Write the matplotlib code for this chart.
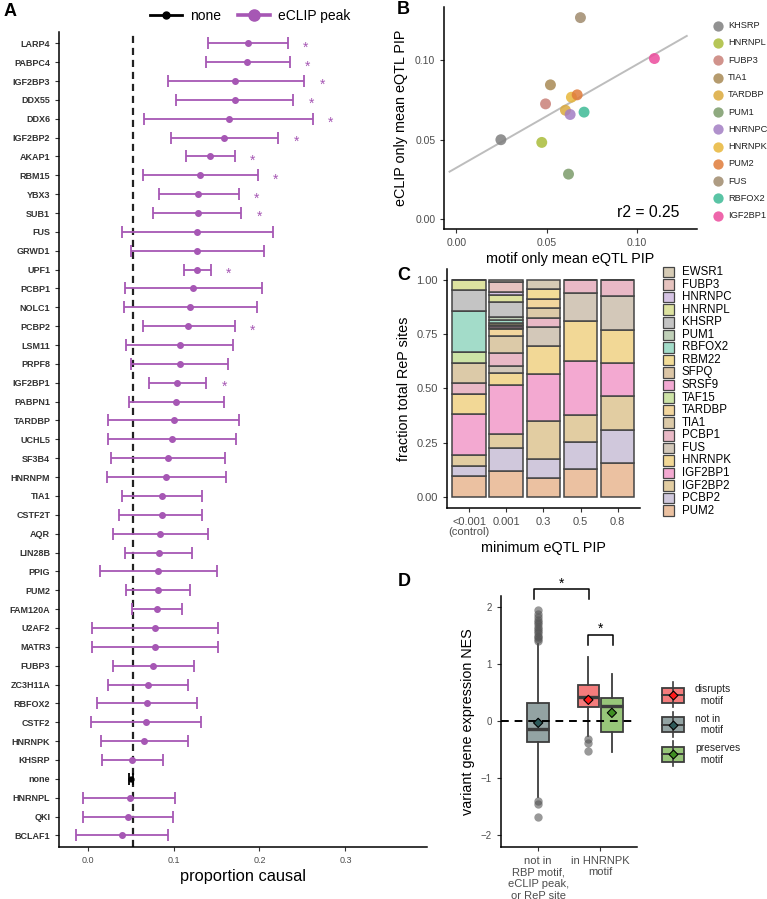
import numpy as np
import matplotlib.pyplot as plt
from matplotlib.lines import Line2D
from matplotlib.patches import Rectangle

plt.rcParams['font.family'] = ['Liberation Sans', 'DejaVu Sans']

W, H = 767, 899
PURPLE = "#a657b4"
TICK_GREY = "#4d4d4d"


def px_rect(l, t, r, b):
    """figure rect from pixel box (left, top, right, bottom)"""
    return [l / W, 1 - b / H, (r - l) / W, (b - t) / H]


# ── Panel A: proportion causal per RBP (eCLIP peak) ───────────────────────────
A_LABELS = ["LARP4", "PABPC4", "IGF2BP3", "DDX55", "DDX6", "IGF2BP2", "AKAP1",
            "RBM15", "YBX3", "SUB1", "FUS", "GRWD1", "UPF1", "PCBP1", "NOLC1",
            "PCBP2", "LSM11", "PRPF8", "IGF2BP1", "PABPN1", "TARDBP", "UCHL5",
            "SF3B4", "HNRNPM", "TIA1", "CSTF2T", "AQR", "LIN28B", "PPIG", "PUM2",
            "FAM120A", "U2AF2", "MATR3", "FUBP3", "ZC3H11A", "RBFOX2", "CSTF2",
            "HNRNPK", "KHSRP", "none", "HNRNPL", "QKI", "BCLAF1"]
A_MID = [0.187, 0.186, 0.172, 0.171, 0.164, 0.159, 0.142, 0.131, 0.129, 0.128,
         0.127, 0.127, 0.127, 0.123, 0.119, 0.117, 0.107, 0.107, 0.104, 0.103,
         0.100, 0.098, 0.094, 0.091, 0.087, 0.086, 0.084, 0.083, 0.082, 0.082,
         0.081, 0.078, 0.078, 0.076, 0.070, 0.069, 0.068, 0.066, 0.052, 0.0505,
         0.049, 0.047, 0.040]
A_LO = [0.140, 0.138, 0.093, 0.103, 0.066, 0.097, 0.114, 0.065, 0.083, 0.076,
        0.040, 0.050, 0.112, 0.043, 0.042, 0.064, 0.045, 0.050, 0.071, 0.048,
        0.024, 0.024, 0.027, 0.022, 0.040, 0.037, 0.029, 0.043, 0.014, 0.045,
        0.052, 0.005, 0.005, 0.029, 0.024, 0.011, 0.004, 0.015, 0.017, 0.0485,
        -0.005, -0.005, -0.014]
A_HI = [0.233, 0.235, 0.252, 0.239, 0.262, 0.222, 0.171, 0.198, 0.176, 0.179,
        0.216, 0.205, 0.143, 0.203, 0.197, 0.171, 0.169, 0.163, 0.138, 0.159,
        0.176, 0.173, 0.160, 0.161, 0.133, 0.133, 0.140, 0.122, 0.151, 0.119,
        0.110, 0.152, 0.152, 0.124, 0.117, 0.127, 0.132, 0.117, 0.088, 0.0525,
        0.102, 0.099, 0.093]
A_SIGNIF = ["LARP4", "PABPC4", "IGF2BP3", "DDX55", "DDX6", "IGF2BP2", "AKAP1",
            "RBM15", "YBX3", "SUB1", "UPF1", "PCBP2", "IGF2BP1"]
A_NONE_LINE = 0.0527

# ── Panel B: motif-only vs eCLIP-only mean eQTL PIP ────────────────────────────
B_RBPS = ["KHSRP", "HNRNPL", "FUBP3", "TIA1", "TARDBP", "PUM1", "HNRNPC",
          "HNRNPK", "PUM2", "FUS", "RBFOX2", "IGF2BP1"]
B_MOTIF = [0.0247, 0.0473, 0.0494, 0.0521, 0.0604, 0.0621, 0.0630, 0.0637,
           0.0669, 0.0687, 0.0707, 0.1096]
B_ECLIP = [0.0500, 0.0483, 0.0726, 0.0846, 0.0686, 0.0283, 0.0659, 0.0768,
           0.0783, 0.1270, 0.0674, 0.1012]
B_COLORS = ["#7f7f7f", "#a9bc3a", "#c98078", "#a88a55", "#dba93c", "#7b9b6a",
            "#a37ec4", "#e8b63a", "#e07b3a", "#a08b6d", "#3dba95", "#ec4b9c"]
B_LINE_RANGE = [-0.0037, 0.1275]

# ── Panel C: RBP composition of ReP sites by PIP threshold ─────────────────────
C_GROUPS = ["<0.001\n(control)", "0.001", "0.3", "0.5", "0.8"]
C_RBPS = ["EWSR1", "FUBP3", "HNRNPC", "HNRNPL", "KHSRP", "PUM1", "RBFOX2",
          "RBM22", "SFPQ", "SRSF9", "TAF15", "TARDBP", "TIA1", "PCBP1", "FUS",
          "HNRNPK", "IGF2BP1", "IGF2BP2", "PCBP2", "PUM2"]
C_COLORS = ["#d6cbb5", "#e6c3bf", "#d5c3e3", "#dde2a0", "#c4c4c4", "#c0d0b8",
            "#a3dcc9", "#f2dc98", "#dcc6a6", "#f2a9d2", "#cde3a6", "#f2d69e",
            "#dccaa8", "#e9b9c6", "#d3c8b9", "#f2d896", "#f3a9d1", "#e2cda2",
            "#d0c8dc", "#ebc1a1"]
# fractions in C_RBPS order
C_CONTROL = [0, 0, 0, 0.048, 0.095, 0, 0.190, 0, 0, 0, 0.048, 0, 0.095, 0.048,
             0, 0.095, 0.190, 0.048, 0.048, 0.095]
C_P001 = [0.008, 0.049, 0.012, 0.034, 0.069, 0.014, 0.014, 0.007, 0.007, 0.007,
          0.006, 0.033, 0.078, 0.057, 0.033, 0.058, 0.226, 0.065, 0.103, 0.120]
C_P03 = [0.043, 0, 0, 0, 0, 0, 0, 0.043, 0, 0, 0, 0.043, 0.044, 0.044, 0.089,
         0.129, 0.217, 0.175, 0.086, 0.087]
C_P05 = [0, 0, 0, 0, 0, 0, 0, 0, 0, 0, 0, 0, 0, 0.059, 0.129, 0.185, 0.250,
         0.127, 0.125, 0.126]
C_P08 = [0, 0, 0, 0, 0, 0, 0, 0, 0, 0, 0, 0, 0, 0.074, 0.157, 0.154, 0.150,
         0.157, 0.154, 0.154]
C_FRACTIONS = [C_CONTROL, C_P001, C_P03, C_P05, C_P08]

# ── Panel D: variant NES by motif status (box summaries) ──────────────────────
D_XLABELS = ["not in\nRBP motif,\neCLIP peak,\nor ReP site", "in HNRNPK\nmotif"]
D_CLASSES = ["disrupts\n  motif", "not in\n  motif", "preserves\n  motif"]
D_FILL = {"disrupts": "#f47c7c", "not in": "#93a3a3", "preserves": "#98c67a"}
D_MEANCOL = {"disrupts": "#ff1a1a", "not in": "#2d5a5a", "preserves": "#3f8f22"}
D_NOTIN = dict(q1=-0.363, med=-0.146, q3=0.310, whislo=-1.33, whishi=1.36,
               mean=-0.03)
D_NOTIN_FLIERS = [1.95, 1.88, 1.83, 1.78, 1.74, 1.70, 1.66, 1.62, 1.58, 1.54,
                  1.50, 1.47, 1.44, 1.41, -1.40, -1.45, -1.68]
D_DISRUPT = dict(q1=0.25, med=0.426, q3=0.63, whislo=-0.26, whishi=1.12,
                 mean=0.374)
D_DISRUPT_FLIERS = [-0.31, -0.39, -0.52]
D_PRESERVE = dict(q1=-0.193, med=0.27, q3=0.404, whislo=-0.55, whishi=0.82,
                  mean=0.146)


def style_axes(ax):
    for s in ["top", "right"]:
        ax.spines[s].set_visible(False)
    for s in ["left", "bottom"]:
        ax.spines[s].set_linewidth(1.1)
    ax.tick_params(length=3, width=0.8, color="#333333", labelcolor=TICK_GREY)


fig = plt.figure(figsize=(W / 100, H / 100), dpi=100)

# ── A ──────────────────────────────────────────────────────────────────────────
axA = fig.add_axes(px_rect(59.3, 32, 427, 846.7))
style_axes(axA)
ys = np.arange(len(A_LABELS))
mid, lo, hi = np.array(A_MID), np.array(A_LO), np.array(A_HI)
is_none = np.array([l == "none" for l in A_LABELS])
e = ~is_none
axA.errorbar(mid[e], ys[e], xerr=[mid[e] - lo[e], hi[e] - mid[e]], fmt="o",
             color=PURPLE, ms=4, elinewidth=1.3, capsize=4.6, capthick=1.3)
axA.errorbar(mid[is_none], ys[is_none],
             xerr=[mid[is_none] - lo[is_none], hi[is_none] - mid[is_none]],
             fmt="o", color="black", ms=3.5, elinewidth=1.3, capsize=4.6,
             capthick=1.3)
axA.axvline(A_NONE_LINE, color="#222222", lw=1.6, ls=(0, (3.2, 2.2)), zorder=0)
for i, lab in enumerate(A_LABELS):
    if lab in A_SIGNIF:
        axA.text(A_HI[i] + 0.021, ys[i] + 0.22, "*", color=PURPLE, fontsize=10,
                 ha="center", va="center")
axA.set_yticks(ys)
axA.set_yticklabels(A_LABELS, fontsize=6.5, fontweight="bold")
for t in axA.get_yticklabels():
    t.set_color("#333333")
axA.set_ylim(len(A_LABELS) - 0.4, -0.6)
axA.set_xlim(-0.033, 0.395)
axA.set_xticks([0.0, 0.1, 0.2, 0.3])
axA.set_xticklabels(["0.0", "0.1", "0.2", "0.3"], fontsize=6.5)
axA.set_xlabel("proportion causal", fontsize=11.8, labelpad=3)

handles = [Line2D([], [], color="black", lw=2, marker="o", ms=5),
           Line2D([], [], color=PURPLE, lw=2.6, marker="o", ms=8)]
fig.legend(handles, ["none", "eCLIP peak"], ncol=2, frameon=False,
           loc="center", bbox_to_anchor=(250 / W, 1 - 16 / H), fontsize=10,
           handlelength=2.3, columnspacing=1.2, handletextpad=0.6)

# ── B ──────────────────────────────────────────────────────────────────────────
axB = fig.add_axes(px_rect(444.3, 7.3, 696.7, 229))
style_axes(axB)
coef = np.polyfit(B_MOTIF, B_ECLIP, 1)
lx = np.array(B_LINE_RANGE)
axB.plot(lx, np.polyval(coef, lx), color="#bdbdbd", lw=1.4, zorder=1)
axB.scatter(B_MOTIF, B_ECLIP, c=B_COLORS, s=62, alpha=0.85, linewidths=0,
            zorder=2)
axB.set_xlim(-0.0066, 0.133)
axB.set_ylim(-0.0063, 0.1335)
axB.set_xticks([0, 0.05, 0.10])
axB.set_xticklabels(["0.00", "0.05", "0.10"], fontsize=7.5)
axB.set_yticks([0, 0.05, 0.10])
axB.set_yticklabels(["0.00", "0.05", "0.10"], fontsize=7.5)
axB.set_xlabel("motif only mean eQTL PIP", fontsize=10.4, labelpad=3)
axB.set_ylabel("eCLIP only mean eQTL PIP", fontsize=10.4, labelpad=5)
axB.text(0.106, 0.004, "r2 = 0.25", fontsize=11.3, ha="center", va="center")

# ── C ──────────────────────────────────────────────────────────────────────────
axC = fig.add_axes(px_rect(446.7, 269, 640, 507.7))
style_axes(axC)
xpos = np.arange(1, len(C_GROUPS) + 1)
fr = np.array(C_FRACTIONS)
bottom = np.zeros(len(C_GROUPS))
for j in range(len(C_RBPS) - 1, -1, -1):
    vals = fr[:, j]
    axC.bar(xpos, vals, bottom=bottom, width=0.9, color=C_COLORS[j],
            edgecolor="#454545", linewidth=1.1)
    bottom += vals
axC.set_xlim(0.4, 5.6)
axC.set_ylim(-0.051, 1.051)
axC.set_xticks(xpos)
axC.set_xticklabels(C_GROUPS, fontsize=8, va="top", linespacing=1.05)
axC.set_yticks([0, 0.25, 0.5, 0.75, 1.0])
axC.set_yticklabels(["0.00", "0.25", "0.50", "0.75", "1.00"], fontsize=8)
axC.set_xlabel("minimum eQTL PIP", fontsize=10.4, labelpad=3)
axC.set_ylabel("fraction total ReP sites", fontsize=10.4, labelpad=4)

# ── D ──────────────────────────────────────────────────────────────────────────
axD = fig.add_axes(px_rect(501, 596, 637.3, 846.7))
style_axes(axD)
stats = [dict(D_NOTIN, fliers=D_NOTIN_FLIERS),
         dict(D_DISRUPT, fliers=D_DISRUPT_FLIERS),
         dict(D_PRESERVE, fliers=[])]
dpos = [1, 1.81, 2.19]
fills = [D_FILL["not in"], D_FILL["disrupts"], D_FILL["preserves"]]
means = [D_MEANCOL["not in"], D_MEANCOL["disrupts"], D_MEANCOL["preserves"]]
bp = axD.bxp(stats, positions=dpos, widths=0.35, patch_artist=True,
             showcaps=False, showfliers=True,
             boxprops=dict(edgecolor="#3d3d3d", linewidth=1.3),
             whiskerprops=dict(color="#3d3d3d", linewidth=1.3),
             medianprops=dict(color="#3d3d3d", linewidth=2.4),
             flierprops=dict(marker="o", markerfacecolor="#555555",
                             markeredgecolor="none", alpha=0.6, ms=6))
for patch, col in zip(bp["boxes"], fills):
    patch.set_facecolor(col)
axD.scatter(dpos, [s["mean"] for s in stats], marker="D", s=22, c=means,
            edgecolors="black", linewidths=0.8, zorder=5)
axD.axhline(0, color="black", lw=1.4, ls=(0, (4, 3)), zorder=4)
axD.set_xlim(0.4, 2.6)
axD.set_ylim(-2.205, 2.198)
axD.set_yticks([-2, -1, 0, 1, 2])
axD.set_yticklabels(["\u22122", "\u22121", "0", "1", "2"], fontsize=7)
axD.set_xticks([1, 2])
axD.set_xticklabels(D_XLABELS, fontsize=8, linespacing=1.2)
axD.set_ylabel("variant gene expression NES", fontsize=10.4, labelpad=4)
# significance brackets
for (x1, x2, ytop, yleg, ystar) in [(0.94, 1.82, 2.316, 2.15, 2.42),
                                    (1.81, 2.21, 1.52, 1.345, 1.62)]:
    axD.plot([x1, x1, x2, x2], [yleg, ytop, ytop, yleg], color="black",
             lw=1.1, clip_on=False)
    axD.text((x1 + x2) / 2, ystar, "*", fontsize=10, ha="center",
             va="center", clip_on=False)

# ── overlay: panel letters and hand-built legends (pixel coords) ──────────────
ov = fig.add_axes([0, 0, 1, 1])
ov.set_xlim(0, W)
ov.set_ylim(H, 0)
ov.axis("off")
for letter, (x, y) in zip("ABCD", [(4, 12), (397, 10), (397, 276), (398, 581)]):
    ov.text(x, y, letter, fontsize=13, fontweight="bold", va="center")

# B legend
for i, (name, col) in enumerate(zip(B_RBPS, B_COLORS)):
    y = 25.7 + 17.27 * i
    ov.scatter([718], [y], s=55, c=[col], alpha=0.85, linewidths=0)
    ov.text(728, y, name, fontsize=6.7, va="center", color="#222222")

# C legend
for i, (name, col) in enumerate(zip(C_RBPS, C_COLORS)):
    y = 272 + 12.56 * i
    ov.add_patch(Rectangle((663.3, y - 5.3), 10.6, 10.6, facecolor=col,
                           edgecolor="#454545", lw=0.9))
    ov.text(682, y, name, fontsize=8.3, va="center")

# D legend
for i, key in enumerate(["disrupts", "not in", "preserves"]):
    yc = 695 + 29.5 * i
    ov.plot([673, 673], [yc - 13, yc + 12], color="#3d3d3d", lw=1.2)
    ov.add_patch(Rectangle((661.7, yc - 7.5), 22.6, 15, facecolor=D_FILL[key],
                           edgecolor="#3d3d3d", lw=1.3))
    ov.plot([661.7, 684.3], [yc, yc], color="#3d3d3d", lw=1.4)
    ov.scatter([673], [yc], marker="D", s=20, c=[D_MEANCOL[key]],
               edgecolors="black", linewidths=0.8, zorder=5)
    ov.text(695, yc, D_CLASSES[i], fontsize=7.4, va="center", linespacing=1.15,
            color="#222222")

fig.savefig("out.png", dpi=100)
